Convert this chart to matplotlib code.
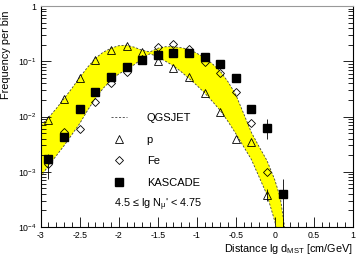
import numpy as np
import matplotlib
matplotlib.use("Agg")
import matplotlib.pyplot as plt
from matplotlib.ticker import FixedLocator, MultipleLocator, LogLocator, NullFormatter

plt.rcParams['font.family'] = ['Liberation Sans', 'DejaVu Sans']
plt.rcParams['mathtext.fontset'] = 'custom'
plt.rcParams['mathtext.rm'] = 'Liberation Sans'
plt.rcParams['mathtext.it'] = 'Liberation Sans:italic'
plt.rcParams['mathtext.default'] = 'regular'

# bin centres (lg d_MST)
x_pts = [-2.9, -2.7, -2.5, -2.3, -2.1, -1.9, -1.7, -1.5, -1.3, -1.1, -0.9, -0.7, -0.5, -0.3, -0.1, 0.1]

kascade = [1.72e-3, 4.33e-3, 0.0138, 0.0279, 0.0519, 0.0788, 0.107, 0.129, 0.142, 0.140,
           0.118, 0.0893, 0.0497, 0.0138, 6.2e-3, 4.0e-4]
kas_err_lo = [9.7e-4, 0, 0, 0, 0, 0, 0, 0, 0, 0, 0, 0, 0, 0, 2.2e-3, 3.9e-4]
kas_err_hi = [4.0e-4, 0, 0, 0, 0, 0, 0, 0, 0, 0, 0, 0, 0, 0, 3.0e-3, 3.5e-4]

x_p = x_pts[:-1]
proton = [8.7e-3, 0.0204, 0.0497, 0.104, 0.158, 0.187, 0.148, 0.101, 0.0768, 0.0519,
          0.0265, 0.0123, 3.98e-3, 3.44e-3, 3.77e-4]

x_fe = x_pts[:-1]
iron = [1.40e-3, 5.3e-3, 6.0e-3, 0.0187, 0.0403, 0.0639, 0.110, 0.182, 0.204, 0.170,
        0.0971, 0.0626, 0.0277, 7.55e-3, 9.7e-4]

# QGSJET band edges (log10 values)
band_x_up = [-3.0, -2.9, -2.8, -2.7, -2.6, -2.5, -2.4, -2.3, -2.2, -2.1, -2.0, -1.9, -1.8, -1.7,
             -1.6, -1.5, -1.4, -1.3, -1.2, -1.1, -1.0, -0.9, -0.8, -0.7, -0.6, -0.5, -0.4,
             -0.3, -0.2, -0.1, 0.0, 0.07, 0.13]
band_lg_up = [-2.16, -2.02, -1.855, -1.673, -1.49, -1.29, -1.11, -0.945, -0.836, -0.764, -0.718,
              -0.709, -0.745, -0.80, -0.83, -0.764, -0.736, -0.736, -0.755, -0.782, -0.855,
              -0.936, -1.045, -1.18, -1.37, -1.605, -1.945, -2.29, -2.55, -2.80, -3.15, -3.47, -4.05]
band_x_lo = [-3.0, -2.9, -2.8, -2.7, -2.6, -2.5, -2.4, -2.3, -2.2, -2.1, -2.0, -1.9, -1.8, -1.7,
             -1.6, -1.5, -1.4, -1.3, -1.2, -1.1, -1.0, -0.9, -0.8, -0.7, -0.6, -0.5, -0.4,
             -0.3, -0.2, -0.1, 0.0, 0.02]
band_lg_lo = [-3.09, -2.89, -2.71, -2.527, -2.327, -2.127, -1.89, -1.673, -1.49, -1.345, -1.23,
              -1.15, -1.06, -0.95, -0.864, -0.918, -1.0, -1.082, -1.19, -1.31, -1.436, -1.573,
              -1.727, -1.89, -2.09, -2.31, -2.545, -2.78, -3.10, -3.42, -3.90, -4.05]

fig = plt.figure(figsize=(3.56, 2.59), dpi=100)
ax = fig.add_axes([0.1143, 0.1236, 0.877, 0.853])

up = 10 ** np.array(band_lg_up)
lo = 10 ** np.array(band_lg_lo)
poly_x = np.concatenate([band_x_up, band_x_lo[::-1]])
poly_y = np.concatenate([up, lo[::-1]])
ax.fill(poly_x, poly_y, color='#ffff00', lw=0, zorder=1)
dash = dict(color='0.25', lw=0.6, dashes=(2.5, 2.0), zorder=2)
l_q, = ax.plot(band_x_up, up, **dash)
ax.plot(band_x_lo, lo, **dash)

l_p, = ax.plot(x_p, proton, ls='none', marker='^', ms=5.5, mfc='none', mec='k', mew=0.6, zorder=3)
ax.errorbar([x_p[-1]], [proton[-1]], yerr=[[0.8e-4], [1.2e-4]], fmt='none', ecolor='k',
            elinewidth=0.6, zorder=3)
l_fe, = ax.plot(x_fe, iron, ls='none', marker='D', ms=4.2, mfc='none', mec='k', mew=0.6, zorder=3)
ax.errorbar(x_pts, kascade, yerr=[kas_err_lo, kas_err_hi], fmt='none', ecolor='k',
            elinewidth=0.6, zorder=4)
l_k, = ax.plot(x_pts, kascade, ls='none', marker='s', ms=5.5, mfc='k', mec='k', zorder=5)

ax.set_yscale('log')
ax.set_xlim(-3, 1)
ax.set_ylim(1e-4, 1)

ax.xaxis.set_major_locator(MultipleLocator(0.5))
ax.xaxis.set_minor_locator(MultipleLocator(0.1))
ax.yaxis.set_major_locator(FixedLocator([1e-4, 1e-3, 1e-2, 1e-1, 1]))
ax.yaxis.set_minor_locator(LogLocator(base=10, subs=np.arange(2, 10)))
ax.yaxis.set_minor_formatter(NullFormatter())
ax.set_yticklabels([r'$10^{-4}$', r'$10^{-3}$', r'$10^{-2}$', r'$10^{-1}$', '1'])
ax.set_xticks([-3, -2.5, -2, -1.5, -1, -0.5, 0, 0.5, 1])
ax.set_xticklabels(['-3', '-2.5', '-2', '-1.5', '-1', '-0.5', '0', '0.5', '1'])

ax.tick_params(which='both', direction='in', labelsize=6.3, width=0.6, right=True, top=False)
ax.tick_params(which='major', length=7)
ax.tick_params(which='minor', length=3.5)
ax.tick_params(axis='y', pad=3)
ax.tick_params(axis='x', pad=3)
for s in ax.spines.values():
    s.set_linewidth(0.8)
ax.spines['top'].set_color('0.6')

ax.set_xlabel(r'Distance lg d$_{MST}$ [cm/GeV]', fontsize=7.8, loc='right', labelpad=1)
ax.set_ylabel('Frequency per bin', fontsize=7.8, loc='top')
ax.yaxis.set_label_coords(-0.094, 0.982)

ax.legend([l_q, l_p, l_fe, l_k], ['QGSJET', 'p', 'Fe', 'KASCADE'], frameon=False,
          fontsize=8, loc='upper left', bbox_to_anchor=(0.209, 0.54), borderpad=0,
          handlelength=1.4, handletextpad=1.77, labelspacing=1.04)
ax.text(0.235, 0.099, "4.5 ≤ lg N$_{\\mu}$' < 4.75", transform=ax.transAxes,
        fontsize=7.8, va='center', ha='left')

fig.savefig('out.png', dpi=100)
